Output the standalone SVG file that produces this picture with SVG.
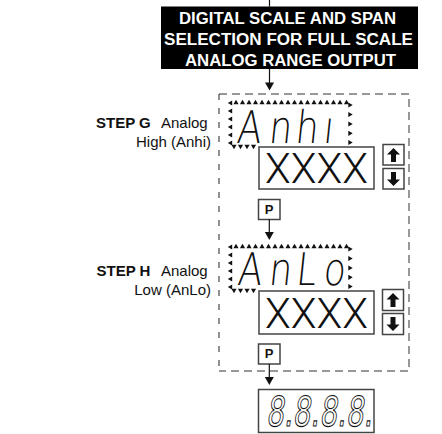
<svg xmlns="http://www.w3.org/2000/svg" xmlns:xlink="http://www.w3.org/1999/xlink" width="442" height="434" viewBox="0 0 442 434">
<style>
.lbl{font-family:"Liberation Sans",Arial,sans-serif;font-size:15px;fill:#111}
.b{font-weight:bold}
.ttl{font-family:"Liberation Sans",Arial,sans-serif;font-size:16px;font-weight:bold;fill:#fff}
.seg{font-family:"DejaVu Sans",sans-serif;font-size:45px;font-weight:200;fill:#111}
.xx{font-family:Roboto,"Liberation Sans",sans-serif;font-size:42px;font-weight:300;fill:#111}
.box{fill:#fff;stroke:#444;stroke-width:1.5}
.btn{fill:#fff;stroke:#444;stroke-width:1.5}
.pl{font-family:"Liberation Sans",Arial,sans-serif;font-size:13px;font-weight:bold;fill:#111}
.con{stroke:#111;stroke-width:1.2;fill:none}
.dg{fill:none;stroke:#777;stroke-width:1.5;stroke-dasharray:8 5}
.dl{fill:none;stroke:#222;stroke-width:1;stroke-dasharray:6 8}
.big{font-family:"DejaVu Sans",sans-serif;font-size:41px;font-weight:normal;fill:#fff;stroke:#111;stroke-width:1.1}
</style>
<defs>
<path id="tu" d="M0,-2.2 L2.6,2.2 L-2.6,2.2 Z" fill="#111"/>
<path id="td" d="M0,2.2 L2.6,-2.2 L-2.6,-2.2 Z" fill="#111"/>
<path id="tl" d="M-2.2,0 L2.2,-2.6 L2.2,2.6 Z" fill="#111"/>
<path id="tr" d="M2.2,0 L-2.2,-2.6 L-2.2,2.6 Z" fill="#111"/>
<path id="au" d="M0,-7 L6.5,-0.5 L2.5,-0.5 L2.5,7 L-2.5,7 L-2.5,-0.5 L-6.5,-0.5 Z" fill="#111"/>
<path id="ah" d="M0,0 L-4.5,-8 L4.5,-8 Z" fill="#111"/>
<g id="frame">
<use xlink:href="#tu" x="236" y="102"/><use xlink:href="#tu" x="242.5" y="102"/><use xlink:href="#tu" x="249" y="102"/><use xlink:href="#tu" x="255.5" y="102"/><use xlink:href="#tu" x="262" y="102"/><use xlink:href="#tu" x="268.5" y="102"/><use xlink:href="#tu" x="275" y="102"/><use xlink:href="#tu" x="281.5" y="102"/><use xlink:href="#tu" x="288" y="102"/><use xlink:href="#tu" x="294.5" y="102"/><use xlink:href="#tu" x="301" y="102"/><use xlink:href="#tu" x="307.5" y="102"/><use xlink:href="#tu" x="314" y="102"/><use xlink:href="#tu" x="320.5" y="102"/><use xlink:href="#tu" x="327" y="102"/><use xlink:href="#tu" x="333.5" y="102"/><use xlink:href="#tu" x="340" y="102"/><use xlink:href="#tu" x="346.5" y="102"/>
<use xlink:href="#tl" x="230" y="103"/><use xlink:href="#tl" x="230" y="111"/><use xlink:href="#tl" x="230" y="119"/><use xlink:href="#tl" x="230" y="127"/><use xlink:href="#tl" x="230" y="135"/><use xlink:href="#tl" x="230" y="143"/>
<use xlink:href="#tr" x="350.5" y="105"/><use xlink:href="#tr" x="350.5" y="114.5"/><use xlink:href="#tr" x="350.5" y="124"/><use xlink:href="#tr" x="350.5" y="133.3"/><use xlink:href="#tr" x="350.5" y="142.5"/>
<use xlink:href="#td" x="234" y="147"/><use xlink:href="#td" x="240.5" y="147"/><use xlink:href="#td" x="247" y="147"/><use xlink:href="#td" x="253.5" y="147"/>
</g>
</defs>

<g id="dashed-group">
<path class="dg" d="M219,94 H409 V371 H219"/>
<path class="dl" d="M219,94 V371"/>
</g>

<g id="title">
<rect x="161" y="6.5" width="257" height="62.5" fill="#000"/>
<text class="ttl" x="179" y="24" textLength="217" lengthAdjust="spacingAndGlyphs">DIGITAL SCALE AND SPAN</text>
<text class="ttl" x="164" y="45" textLength="249" lengthAdjust="spacingAndGlyphs">SELECTION FOR FULL SCALE</text>
<text class="ttl" x="185" y="66" textLength="211" lengthAdjust="spacingAndGlyphs">ANALOG RANGE OUTPUT</text>
</g>

<g id="step-g-label">
<text class="lbl" y="128.3"><tspan class="b" x="96">STEP G</tspan><tspan x="161">Analog</tspan></text>
<text class="lbl" x="211" y="146.7" text-anchor="end">High (Anhi)</text>
</g>

<g id="step-h-label">
<text class="lbl" y="276"><tspan class="b" x="96.5">STEP H</tspan><tspan x="161">Analog</tspan></text>
<text class="lbl" x="211" y="295" text-anchor="end">Low (AnLo)</text>
</g>

<g id="display-anhi">
<use xlink:href="#frame"/>
<text class="seg" transform="translate(0,143) skewX(-6) scale(0.8,1)" y="0"><tspan x="295">A</tspan><tspan x="335">n</tspan><tspan x="368">h</tspan><tspan x="403">ı</tspan></text>
</g>

<g id="value-g">
<rect class="box" x="259" y="147" width="115" height="42"/>
<text class="xx" x="265" y="183" textLength="103" lengthAdjust="spacingAndGlyphs">XXXX</text>
</g>
<g id="up-g">
<rect class="btn" x="383" y="144.5" width="21" height="20.5"/>
<use xlink:href="#au" x="393.5" y="155"/>
</g>
<g id="down-g">
<rect class="btn" x="383" y="168.5" width="21" height="20.5"/>
<use xlink:href="#au" transform="translate(393.5,179) rotate(180)"/>
</g>
<g id="p-g">
<rect class="btn" x="258.5" y="199.5" width="21.5" height="20"/>
<text class="pl" x="269.2" y="213.5" text-anchor="middle">P</text>
</g>

<g id="display-anlo">
<use xlink:href="#frame" transform="translate(0,144)"/>
<text class="seg" transform="translate(0,285) skewX(-6) scale(0.8,1)" y="0"><tspan x="296">A</tspan><tspan x="335">n</tspan><tspan x="369">L</tspan><tspan x="403">o</tspan></text>
</g>

<g id="value-h">
<rect class="box" x="259" y="291" width="115" height="43"/>
<text class="xx" x="265" y="327.5" textLength="103" lengthAdjust="spacingAndGlyphs">XXXX</text>
</g>
<g id="up-h">
<rect class="btn" x="382.5" y="289.5" width="21" height="21"/>
<use xlink:href="#au" x="393" y="300"/>
</g>
<g id="down-h">
<rect class="btn" x="382.5" y="313.5" width="21" height="21"/>
<use xlink:href="#au" transform="translate(393,324) rotate(180)"/>
</g>
<g id="p-h">
<rect class="btn" x="258.5" y="344" width="21.5" height="20"/>
<text class="pl" x="269.2" y="358" text-anchor="middle">P</text>
</g>

<g id="display-final">
<rect class="box" x="258.5" y="389.5" width="115.5" height="43"/>
<text class="big" transform="translate(266,426) skewX(-8) scale(0.68,1)" x="0" y="0">8.8.8.8.</text>
</g>

<g id="connectors">
<path class="con" d="M269.5,0 V6.5 M269.5,69 V83"/>
<use xlink:href="#ah" x="269.5" y="90.5"/>
<path class="con" d="M269.3,219.5 V233"/>
<use xlink:href="#ah" x="269.3" y="240"/>
<path class="con" d="M269.3,364 V378"/>
<use xlink:href="#ah" x="269.3" y="385"/>
</g>
</svg>
